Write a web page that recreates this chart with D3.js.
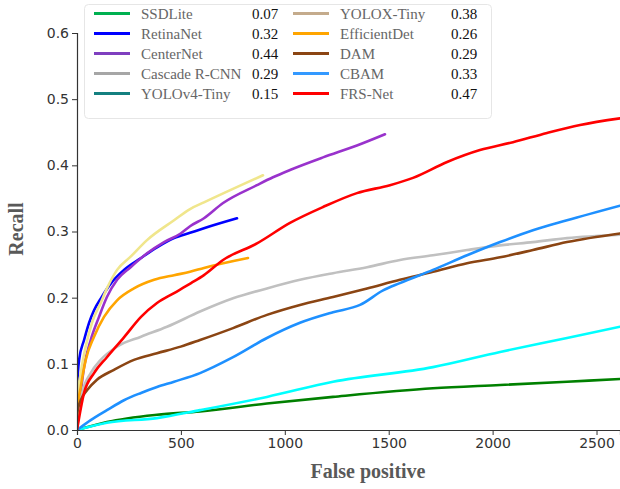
<!DOCTYPE html>
<html lang="en">
<head>
<meta charset="UTF-8">
<title>Recall vs False positive</title>
<script src="https://d3js.org/d3.v7.min.js"></script>
<style>
    body { margin: 0; background: #fff; }
    svg { display: block; }
    .tick text { font-family: "DejaVu Sans", sans-serif; font-size: 14px; fill: #333; }
    .axis-title { font-family: "Liberation Serif", "Times New Roman", serif; font-weight: bold; font-size: 20px; fill: #595959; }
    .leg-name { font-family: "Liberation Serif", serif; font-size: 15px; fill: #666; }
    .leg-val { font-family: "Liberation Serif", serif; font-size: 15px; fill: #111; }
</style>
</head>
<body>
<svg id="chart" width="620" height="489"></svg>
<script>
    // legend order = drawing order
    const names = ["SSDLite", "RetinaNet", "CenterNet", "Cascade R-CNN", "YOLOv4-Tiny",
                   "YOLOX-Tiny", "EfficientDet", "DAM", "CBAM", "FRS-Net"];
    const apValues = ["0.07", "0.32", "0.44", "0.29", "0.15", "0.38", "0.26", "0.29", "0.33", "0.47"];
    const lineColors = ["#008000", "#0000ff", "#9932cc", "#c0c0c0", "#00ffff",
                        "#f0e68c", "#ffa500", "#8b4513", "#1e90ff", "#ff0000"];
    const legendColors = ["#00b050", "#0000ff", "#7f3fbf", "#a6a6a6", "#148080",
                          "#c4ab8c", "#ffa500", "#8b4513", "#3399ff", "#ff0000"];

    // [false positives, recall]
    const ssdLite = [[0, 0], [34, 0.003], [144, 0.012], [385, 0.023], [592, 0.028], [914, 0.040],
        [1232, 0.050], [1713, 0.063], [2036, 0.068], [2358, 0.073], [2613, 0.077]];
    const retinaNet = [[0, 0.04], [1, 0.065], [10, 0.106], [34, 0.136], [58, 0.162], [82, 0.181],
        [115, 0.199], [164, 0.222], [226, 0.242], [308, 0.260], [385, 0.276], [467, 0.290],
        [544, 0.298], [611, 0.305], [770, 0.320]];
    const centerNet = [[0, 0], [5, 0.015], [18, 0.056], [34, 0.095], [66, 0.136], [106, 0.171],
        [144, 0.201], [193, 0.227], [258, 0.246], [337, 0.267], [419, 0.284], [499, 0.297],
        [544, 0.308], [611, 0.320], [703, 0.343], [866, 0.370], [943, 0.382], [1025, 0.393],
        [1184, 0.412], [1347, 0.430], [1482, 0.447]];
    const cascade = [[0, 0.015], [24, 0.056], [66, 0.086], [114, 0.106], [193, 0.126], [308, 0.141],
        [433, 0.156], [592, 0.179], [751, 0.199], [914, 0.214], [1073, 0.227], [1232, 0.237],
        [1396, 0.246], [1554, 0.257], [1713, 0.264], [1877, 0.272], [2036, 0.279], [2194, 0.284],
        [2358, 0.290], [2613, 0.295]];
    const yolov4Tiny = [[0, 0], [144, 0.011], [385, 0.018], [592, 0.030], [914, 0.050], [1232, 0.073],
        [1713, 0.095], [2036, 0.118], [2358, 0.139], [2613, 0.156]];
    const yoloxTiny = [[0, 0.02], [1, 0.045], [18, 0.086], [42, 0.126], [72, 0.162], [114, 0.192],
        [144, 0.214], [193, 0.242], [258, 0.262], [337, 0.287], [467, 0.317], [544, 0.334],
        [611, 0.344], [895, 0.385]];
    const efficientDet = [[0, 0.01], [1, 0.026], [18, 0.065], [42, 0.106], [82, 0.141], [130, 0.171],
        [193, 0.196], [274, 0.214], [371, 0.227], [467, 0.234], [544, 0.239], [611, 0.245],
        [823, 0.260]];
    const dam = [[0, 0.01], [1, 0.026], [18, 0.045], [48, 0.060], [96, 0.076], [178, 0.091],
        [274, 0.106], [385, 0.116], [499, 0.126], [592, 0.136], [751, 0.154], [914, 0.174],
        [1073, 0.189], [1232, 0.201], [1396, 0.214], [1554, 0.227], [1713, 0.239], [1877, 0.252],
        [2036, 0.261], [2194, 0.272], [2358, 0.284], [2613, 0.297]];
    const cbam = [[0, 0], [66, 0.015], [144, 0.030], [226, 0.045], [308, 0.056], [385, 0.065],
        [467, 0.073], [592, 0.086], [751, 0.110], [914, 0.139], [1073, 0.162], [1232, 0.178],
        [1362, 0.189], [1473, 0.211], [1554, 0.222], [1713, 0.242], [1877, 0.264], [2036, 0.284],
        [2194, 0.302], [2358, 0.317], [2613, 0.339]];
    const frsNet = [[0, 0], [34, 0.056], [82, 0.086], [144, 0.110], [226, 0.140], [308, 0.171],
        [385, 0.192], [467, 0.207], [549, 0.222], [611, 0.234], [703, 0.257], [866, 0.282],
        [1025, 0.313], [1184, 0.337], [1347, 0.358], [1506, 0.370], [1617, 0.381], [1781, 0.405],
        [1939, 0.423], [2098, 0.435], [2262, 0.449], [2421, 0.461], [2613, 0.471]];

    const seriesData = [ssdLite, retinaNet, centerNet, cascade, yolov4Tiny,
                        yoloxTiny, efficientDet, dam, cbam, frsNet];

    const yTicks = [0, 0.1, 0.2, 0.3, 0.4, 0.5, 0.6];
    const xTicks = [0, 500, 1000, 1500, 2000, 2500];

    const margin = { left: 77, top: 33, right: 0, bottom: 59 };
    const W = 620, H = 489;

    const svg = d3.select("#chart");

    const x = d3.scaleLinear().domain([0, 2613]).range([margin.left, W - margin.right]);
    const y = d3.scaleLinear().domain([0, 0.6]).range([H - margin.bottom, margin.top]);

    svg.append("clipPath").attr("id", "plot-clip")
        .append("rect")
        .attr("x", margin.left).attr("y", 0)
        .attr("width", W - margin.left).attr("height", H - margin.bottom);

    const line = d3.line()
        .x(d => x(d[0]))
        .y(d => y(d[1]))
        .curve(d3.curveMonotoneX);

    svg.append("g").attr("clip-path", "url(#plot-clip)")
        .selectAll("path")
        .data(seriesData)
        .enter()
        .append("path")
        .attr("d", line)
        .attr("fill", "none")
        .attr("stroke", (d, i) => lineColors[i])
        .attr("stroke-width", 2.6)
        .attr("stroke-linejoin", "round")
        .attr("stroke-linecap", "round");

    // axes
    const xAxis = svg.append("g")
        .attr("transform", `translate(0,${H - margin.bottom})`)
        .call(d3.axisBottom(x).tickValues(xTicks).tickSize(5).tickPadding(3).tickFormat(d3.format("d")));
    const yAxis = svg.append("g")
        .attr("transform", `translate(${margin.left},0)`)
        .call(d3.axisLeft(y).tickValues(yTicks).tickSize(5).tickPadding(3).tickFormat(d3.format(".1f")));
    [xAxis, yAxis].forEach(a => {
        a.select(".domain").attr("stroke", "#333").attr("stroke-width", 1.2);
        a.selectAll(".tick line").attr("stroke", "#333");
    });

    svg.append("text").attr("class", "axis-title")
        .attr("x", 368).attr("y", 478)
        .attr("text-anchor", "middle")
        .text("False positive");
    svg.append("text").attr("class", "axis-title")
        .attr("transform", "translate(23,229) rotate(-90)")
        .attr("text-anchor", "middle")
        .text("Recall");

    // legend
    const legend = svg.append("g");
    legend.append("rect")
        .attr("x", 84.5).attr("y", 4.5)
        .attr("width", 407).attr("height", 114)
        .attr("rx", 4)
        .attr("fill", "#fff").attr("fill-opacity", 0.85)
        .attr("stroke", "#e6e6e6");

    const items = legend.selectAll(".leg-item")
        .data(names)
        .enter()
        .append("g")
        .attr("transform", (d, i) => `translate(${i < 5 ? 94 : 293},${13.5 + (i % 5) * 20})`);

    items.append("line")
        .attr("x1", 0).attr("x2", 36)
        .attr("stroke", (d, i) => legendColors[i])
        .attr("stroke-width", 3);
    items.append("text").attr("class", "leg-name")
        .attr("x", 47).attr("y", 5)
        .text(d => d);
    items.append("text").attr("class", "leg-val")
        .attr("x", 158).attr("y", 5)
        .text((d, i) => apValues[i]);
</script>
</body>
</html>
